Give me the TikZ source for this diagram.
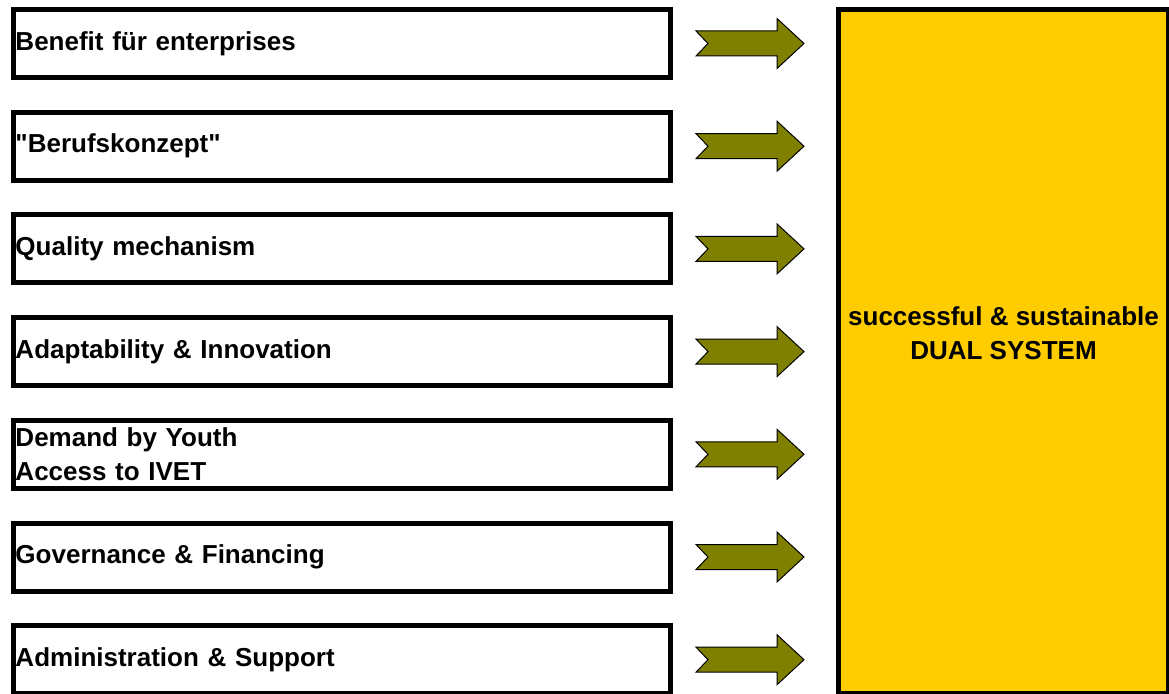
\documentclass[tikz,border=0pt]{standalone}
\usepackage{fontspec}
\setmainfont{Liberation Sans}[Ligatures=TeXOff]
\usetikzlibrary{positioning}
\definecolor{arrowolive}{HTML}{808000}
\definecolor{dualyellow}{HTML}{FFCC00}
\tikzset{
    factor/.style={
        rectangle, draw=black, line width=5pt, fill=white,
        minimum width=657pt, minimum height=68pt,
        text width=653pt, align=left, inner xsep=2pt, inner ysep=0pt,
        font=\fontsize{26}{34}\selectfont\bfseries
    },
    blockarrow/.style={
        draw=black, fill=arrowolive, line width=1pt, line join=miter
    },
    dualbox/.style={
        rectangle, draw=black, line width=5pt, fill=dualyellow,
        minimum width=330pt, minimum height=684pt, inner sep=0pt
    },
    dualtext/.style={
        align=center, inner sep=0pt,
        font=\fontsize{26}{34}\selectfont\bfseries
    }
}

\begin{document}
\begin{tikzpicture}[x=1pt, y=1pt, node distance=29.7pt]

    \useasboundingbox (0,0) rectangle (1169,-693);

    % the seven factors, stacked
    \node[factor, anchor=north west] (f1) at (11,-7) {Benefit für enterprises};
    \node[factor, below=of f1]        (f2) {"Berufskonzept"};
    \node[factor, below=of f2]        (f3) {Quality mechanism};
    \node[factor, below=of f3]        (f4) {Adaptability \& Innovation};
    \node[factor, below=of f4]        (f5) {Demand by Youth\\Access to IVET};
    \node[factor, below=of f5]        (f6) {Governance \& Financing};
    \node[factor, below=of f6]        (f7) {Administration \& Support};

    % the result
    \node[dualbox, anchor=north west] (dual) at (836,-7) {};
    \node[dualtext] (dualtxt) at ([yshift=18pt]dual.center)
        {successful \& sustainable\\DUAL SYSTEM};

    % notched block arrows
    \foreach \i in {1,...,7}
        \draw[blockarrow] ([xshift=23pt]f\i.east) ++(0,12.5)
            -- ++(81,0) -- ++(0,12.5) -- ++(27,-25) -- ++(-27,-25)
            -- ++(0,12.5) -- ++(-81,0) -- ++(12,12.5) -- cycle;

\end{tikzpicture}
\end{document}
